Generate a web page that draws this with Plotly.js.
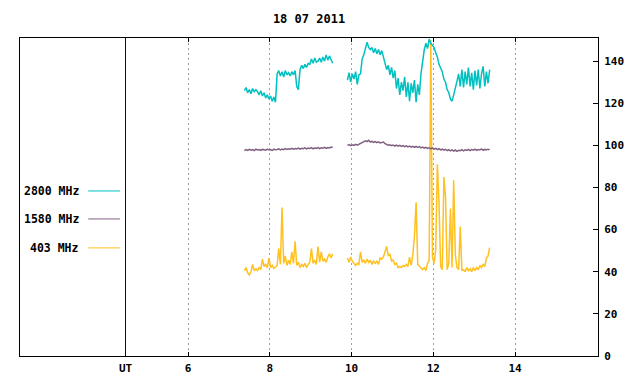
<!DOCTYPE html>
<html>
<head>
<meta charset="utf-8">
<script src="https://cdn.plot.ly/plotly-3.0.1.min.js"></script>
<style>html,body{margin:0;padding:0;background:#fff;}#chart{width:640px;height:384px;}</style>
</head>
<body>
<div id="chart"></div>
<script>
// Time grid: start hour and step (hours, UT)
const startHour = 7.38;
const stepHour = 0.04;

// 2800 MHz flux (sfu) — segment 1, gap, segment 2
const flux2800 = [
  126, 127.5, 125, 126.5, 124.5, 127, 125.5, 126.5,
  125.5, 124, 126, 123.5, 125, 122.5, 124, 122,
  123.5, 121, 123, 120.5,
  134, 135.5, 133, 135, 132.5, 135.5, 133.5, 134.5, 133, 135, 133.5, 135.5,
  128, 126.5,
  136, 138, 136.5, 138.5, 137, 139, 138.5,
  141, 139, 141.5, 139.5, 140, 141.5, 139.5,
  142, 140, 143, 140.5, 142.5, 141, 139,
  null, null, null, null, null, null, null, null,
  131, 134.5, 130, 134, 131.5, 135, 129, 133.5, 134,
  141, 143, 146, 149, 146.5,
  145.5, 146.5, 144, 146, 143.5, 145.5, 143, 145, 142,
  139, 136, 138,
  133.5, 137, 132, 135.5,
  127, 132, 124, 130, 126, 132.5, 123, 130, 121, 129.5, 125, 131, 120.5, 129, 124,
  134, 140, 145.5,
  148.5, 146, 150.5, 148.5, 147.5,
  146.5, 144, 142, 138.5, 137,
  135, 131.5, 130, 126.5, 125, 122, 121,
  124, 128, 130.5, 134,
  128, 136, 127.5, 135, 129, 137, 128, 134.5, 126.5, 135.5, 128.5, 136, 127, 134, 137.5, 128, 135, 129.5, 136
];

// 1580 MHz flux (sfu)
const flux1580 = [
  97.5, 98, 97.6, 98.1, 97.7, 98, 97.5, 98.2, 97.8, 98,
  97.6, 98.1, 97.9, 97.7, 98.2, 97.8, 98, 97.6, 98.2, 97.9,
  98.1, 98.4, 97.9, 98.3, 98, 98.5, 98.1, 98.4, 98.2, 98.6,
  98.2, 98.5, 98.3, 98.7, 98.2, 98.6, 98.4, 98.8, 98.3, 98.7,
  98.5, 98.9, 98.4, 98.8, 98.6, 99, 98.5, 98.9, 98.7, 99.1,
  98.6, 99, 98.8, 99.2, 99,
  null, null, null, null, null, null, null, null,
  100, 100.4, 99.9, 100.3, 100, 100.5, 100.1, 100.6, 100.9,
  101.3, 101.7, 102.2, 101.8, 102.4,
  101.6, 101.9, 101.4, 101.8, 101.3, 101.7, 101.2, 101.5, 101.6,
  100.8, 100.4, 100.1,
  100.3, 99.9, 100.2, 99.7, 100.1, 99.6, 100, 99.5, 99.9, 99.4, 99.8, 99.3, 99.7, 99.2, 99.6, 99.1, 99.5, 99, 99.4,
  98.8, 99.2, 98.7, 99.1, 98.6, 98.9, 98.4, 98.8, 98.2, 98.6, 98, 98.5, 97.9,
  98.2, 97.7, 98.1, 97.5, 98, 97.4, 97.9, 97.3, 97.8, 97.2, 97.7,
  97.5, 98, 97.4, 97.9, 97.6, 98.1, 97.5, 98, 97.7, 98.2, 97.6, 98, 97.8, 98.3, 97.7, 98.1, 97.9, 98.2, 98
];

// 403 MHz flux (sfu)
const flux403 = [
  40.5, 42, 39.5, 38.5, 40, 43.5, 40.5, 41.5, 40.5, 42,
  41, 46, 42.5, 43.5, 42, 46.5, 42, 43, 41.5, 42.5,
  43, 51, 43.5, 70.5, 44, 47.5, 43, 45.5, 43.5, 49.5,
  44, 54.5, 43, 44.5, 42, 43.5, 42.5, 44, 42, 43.5,
  44.5, 51, 44, 45.5, 43.5, 52, 44.5, 49.5, 45, 46,
  44.5, 47, 48.5, 46.5, 48.5,
  null, null, null, null, null, null, null, null,
  46.5, 44.5, 47, 45, 44, 43, 44, 43.5, 49.5, 44.5,
  45.5, 44, 46, 44.5, 45.5, 43.5, 45, 44, 45, 43.5,
  46.5, 46, 47, 49.5, 52, 47.5, 48.5, 45, 45.5, 43.5,
  44, 42, 42.5, 42, 43, 42.5, 43.5, 42.5, 47, 43,
  48, 57, 73, 43.5, 42.5, 41.5, 41, 42, 40.5, 44,
  45.5, 150, 47, 44, 50.5, 91, 73, 42.5, 41, 85,
  75.5, 41, 44, 70, 42, 83.5, 48, 42, 41, 61.5,
  40.5, 41, 40, 42, 40.5, 41.5, 40, 42, 40.5, 42,
  41, 43, 42, 43.5, 42.5, 46.5, 47.5, 51.5
];

const xTicks = [6, 8, 10, 12, 14];
const yTicks = [0, 20, 40, 60, 80, 100, 120, 140];
const legendNames = ["2800 MHz", "1580 MHz", "403 MHz"];
const colors = ["#00c0c0", "#806080", "#ffc020"];
const utHour = 4.471;

const font = {family: "DejaVu Sans Mono, Liberation Mono, monospace", size: 11, color: "#000", weight: "bold"};
const legendFont = Object.assign({}, font, {size: 11.5});

const series = [flux2800, flux1580, flux403];
const traces = series.map((arr, k) => ({
  type: "scatter", mode: "lines",
  x0: startHour, dx: stepHour, y: arr,
  connectgaps: false,
  line: {color: colors[k], width: 1.5},
  name: legendNames[k], hoverinfo: "skip"
}));
traces.reverse();

const legendY = [0.519, 0.431, 0.340];
const shapes = [
  {type: "line", xref: "x", yref: "paper", x0: utHour, x1: utHour, y0: 0, y1: 1, line: {color: "#300000", width: 1}}
];
const annotations = [
  {text: "UT", xref: "x", yref: "paper", x: utHour, y: -0.04, showarrow: false, font: font, xanchor: "center", yanchor: "middle"}
];
legendNames.forEach((n, k) => {
  shapes.push({type: "line", xref: "paper", yref: "paper", x0: 0.118, x1: 0.173, y0: legendY[k], y1: legendY[k], line: {color: colors[k], width: 1}});
  annotations.push({text: n, xref: "paper", yref: "paper", x: 0.106, y: legendY[k], xanchor: "right", yanchor: "middle", showarrow: false, font: legendFont});
});

const layout = {
  width: 640, height: 384,
  margin: {l: 20, r: 42, t: 38, b: 28, pad: 0},
  paper_bgcolor: "#fff", plot_bgcolor: "#fff",
  showlegend: false,
  title: {text: "18 07 2011", font: Object.assign({}, font, {size: 12}), x: 0.5, xref: "paper", xanchor: "center", y: 1 - 19/384, yref: "container", yanchor: "middle"},
  xaxis: {
    range: [1.89, 16.03], tickvals: xTicks, ticktext: xTicks.map(String),
    showgrid: true, gridcolor: "#a0a0a0", griddash: "2px,3px", gridwidth: 1,
    ticks: "inside", ticklen: 4, tickcolor: "#000",
    showline: true, linecolor: "#000", linewidth: 1, mirror: "ticks",
    zeroline: false, tickfont: font, fixedrange: true, ticklabelstandoff: 2
  },
  yaxis: {
    range: [0, 151], side: "right", tickvals: yTicks, ticktext: yTicks.map(String),
    showgrid: false, ticks: "inside", ticklen: 5, tickcolor: "#000",
    showline: true, linecolor: "#000", linewidth: 1, mirror: true,
    zeroline: false, tickfont: font, fixedrange: true, ticklabelstandoff: 3
  },
  shapes: shapes,
  annotations: annotations
};

Plotly.newPlot("chart", traces, layout, {displayModeBar: false, staticPlot: true});
</script>
</body>
</html>
